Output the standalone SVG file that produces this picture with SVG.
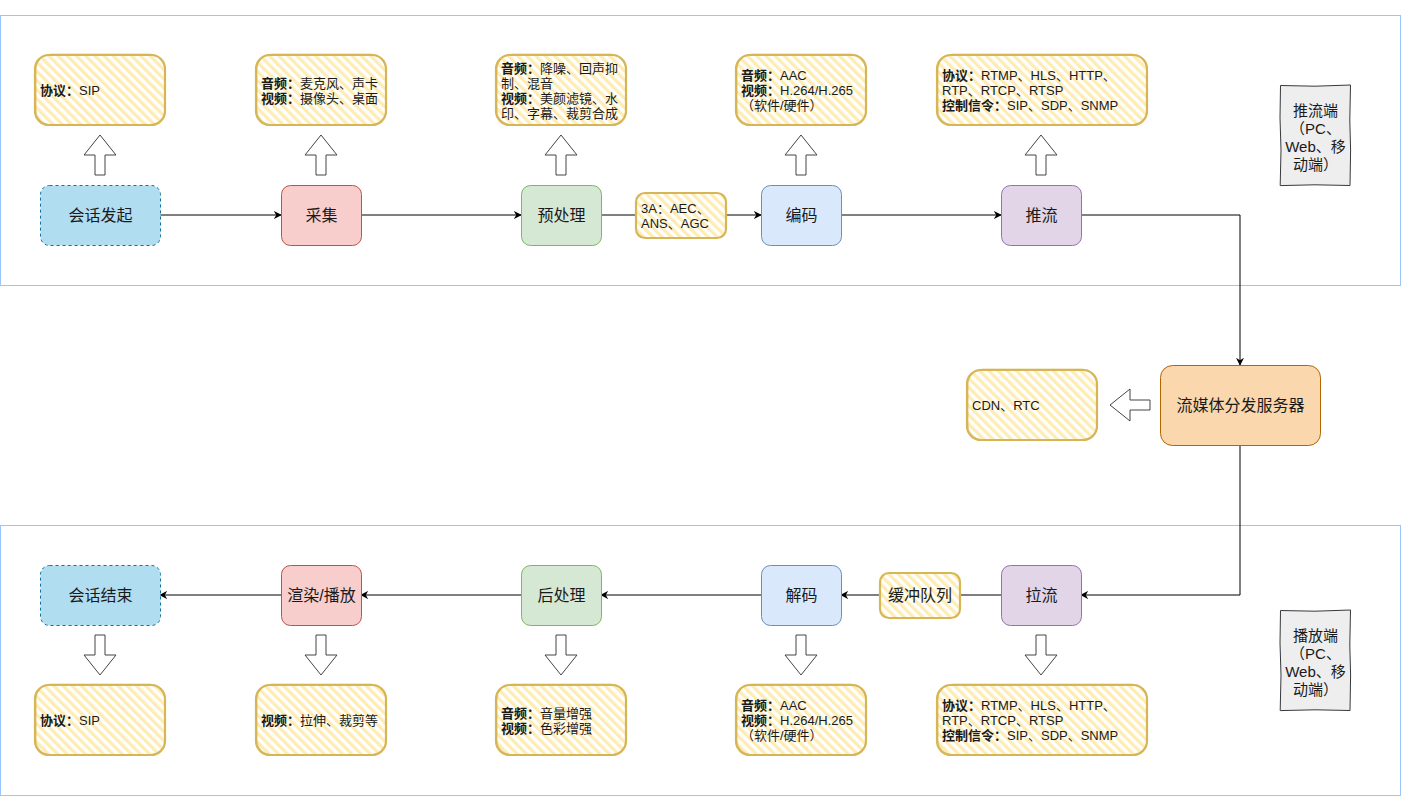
<svg xmlns="http://www.w3.org/2000/svg" width="1401" height="796" viewBox="0 0 1401 796">
<defs>
<pattern id="hatch" patternUnits="userSpaceOnUse" width="6.5" height="6.5" patternTransform="rotate(-45)">
<rect x="0" y="0" width="6.5" height="6.5" fill="#ffffff"/>
<rect x="0" y="0" width="3.2" height="6.5" fill="#ffecb3"/>
</pattern>
<marker id="arr" viewBox="0 0 10 10" refX="9" refY="5" markerWidth="8" markerHeight="8" markerUnits="userSpaceOnUse" orient="auto">
<path d="M0,0 L10,5 L0,10 L3,5 Z" fill="#000"/>
</marker>
<style>
text{font-family:"Liberation Sans","Noto Sans CJK SC",sans-serif;fill:#1a1a1a}
.frame{fill:none;stroke:#99c7fb;stroke-width:1}
.node{stroke-width:1}
.lbl{font-size:16px;text-anchor:middle;dominant-baseline:central}
.note{fill:url(#hatch);stroke:#d6b656;stroke-width:2.2}
.note2{fill:none;stroke:#d6b656;stroke-width:1;opacity:0.6}
.nt{font-size:13px;dominant-baseline:central}
.b{font-weight:bold}
.conn{fill:none;stroke:#000;stroke-width:1}
.blk{fill:#fff;stroke:#444;stroke-width:1}
.side{fill:#eeeeee;stroke:#36393d;stroke-width:1}
.sl{font-size:15px;text-anchor:middle;dominant-baseline:central}
</style>
</defs>

<g id="frames">
<rect class="frame" x="0.5" y="15.5" width="1400" height="270"/>
<rect class="frame" x="0.5" y="525.5" width="1400" height="270"/>
</g>

<g id="connectors">
<path class="conn" d="M160,215 L281,215" marker-end="url(#arr)"/>
<path class="conn" d="M361,215 L521,215" marker-end="url(#arr)"/>
<path class="conn" d="M601,215 L761,215" marker-end="url(#arr)"/>
<path class="conn" d="M841,215 L1001,215" marker-end="url(#arr)"/>
<path class="conn" d="M1081,215 L1240,215 L1240,365" marker-end="url(#arr)"/>
<path class="conn" d="M1240,445 L1240,595 L1081,595" marker-end="url(#arr)"/>
<path class="conn" d="M1001,595 L841,595" marker-end="url(#arr)"/>
<path class="conn" d="M761,595 L601,595" marker-end="url(#arr)"/>
<path class="conn" d="M521,595 L361,595" marker-end="url(#arr)"/>
<path class="conn" d="M281,595 L160,595" marker-end="url(#arr)"/>
<!-- block arrows up -->
<polygon class="blk" points="100,135 116,155 105,155 105,175 95,175 95,155 84,155"/>
<polygon class="blk" points="321,135 337,155 326,155 326,175 316,175 316,155 305,155"/>
<polygon class="blk" points="561,135 577,155 566,155 566,175 556,175 556,155 545,155"/>
<polygon class="blk" points="801,135 817,155 806,155 806,175 796,175 796,155 785,155"/>
<polygon class="blk" points="1041,135 1057,155 1046,155 1046,175 1036,175 1036,155 1025,155"/>
<!-- block arrows down -->
<polygon class="blk" points="95,635 105,635 105,655 116,655 100,675 84,655 95,655"/>
<polygon class="blk" points="316,635 326,635 326,655 337,655 321,675 305,655 316,655"/>
<polygon class="blk" points="556,635 566,635 566,655 577,655 561,675 545,655 556,655"/>
<polygon class="blk" points="796,635 806,635 806,655 817,655 801,675 785,655 796,655"/>
<polygon class="blk" points="1036,635 1046,635 1046,655 1057,655 1041,675 1025,655 1036,655"/>
<!-- block arrow left -->
<polygon class="blk" points="1110,405 1130,389 1130,400 1150,400 1150,410 1130,410 1130,421"/>
</g>

<g id="n-start">
<rect x="40.5" y="185.5" width="120" height="60" rx="9" fill="#b1ddf0" stroke="#10739e" stroke-dasharray="3,3"/>
<text class="lbl" x="100.5" y="215.5">会话发起</text>
</g>
<g id="n-capture">
<rect x="281.5" y="185.5" width="80" height="60" rx="9" fill="#f8cecc" stroke="#b85450"/>
<text class="lbl" x="321.5" y="215.5">采集</text>
</g>
<g id="n-pre">
<rect x="521.5" y="185.5" width="80" height="60" rx="9" fill="#d5e8d4" stroke="#82b366"/>
<text class="lbl" x="561.5" y="215.5">预处理</text>
</g>
<g id="n-enc">
<rect x="761.5" y="185.5" width="80" height="60" rx="9" fill="#dae8fc" stroke="#6c8ebf"/>
<text class="lbl" x="801.5" y="215.5">编码</text>
</g>
<g id="n-push">
<rect x="1001.5" y="185.5" width="80" height="60" rx="9" fill="#e1d5e7" stroke="#9673a6"/>
<text class="lbl" x="1041.5" y="215.5">推流</text>
</g>
<g id="n-server">
<rect x="1160.5" y="365.5" width="160" height="80" rx="12" fill="#fad7ac" stroke="#b46504"/>
<text class="lbl" x="1240.5" y="405.5">流媒体分发服务器</text>
</g>

<g id="n-end">
<rect x="40.5" y="565.5" width="120" height="60" rx="9" fill="#b1ddf0" stroke="#10739e" stroke-dasharray="3,3"/>
<text class="lbl" x="100.5" y="595.5">会话结束</text>
</g>
<g id="n-render">
<rect x="281.5" y="565.5" width="80" height="60" rx="9" fill="#f8cecc" stroke="#b85450"/>
<text class="lbl" x="321.5" y="595.5">渲染/播放</text>
</g>
<g id="n-post">
<rect x="521.5" y="565.5" width="80" height="60" rx="9" fill="#d5e8d4" stroke="#82b366"/>
<text class="lbl" x="561.5" y="595.5">后处理</text>
</g>
<g id="n-dec">
<rect x="761.5" y="565.5" width="80" height="60" rx="9" fill="#dae8fc" stroke="#6c8ebf"/>
<text class="lbl" x="801.5" y="595.5">解码</text>
</g>
<g id="n-pull">
<rect x="1001.5" y="565.5" width="80" height="60" rx="9" fill="#e1d5e7" stroke="#9673a6"/>
<text class="lbl" x="1041.5" y="595.5">拉流</text>
</g>

<!-- notes top -->
<g id="note-t1">
<rect class="note" x="35" y="55" width="130" height="70" rx="14"/>
<rect class="note2" x="36" y="54" width="129" height="71" rx="15"/>
<text class="nt" x="40" y="90"><tspan class="b">协议：</tspan>SIP</text>
</g>
<g id="note-t2">
<rect class="note" x="256" y="55" width="130" height="70" rx="14"/>
<rect class="note2" x="257" y="54" width="129" height="71" rx="15"/>
<text class="nt" x="261" y="83"><tspan class="b">音频：</tspan>麦克风、声卡</text>
<text class="nt" x="261" y="98"><tspan class="b">视频：</tspan>摄像头、桌面</text>
</g>
<g id="note-t3">
<rect class="note" x="496" y="55" width="130" height="70" rx="14"/>
<rect class="note2" x="497" y="54" width="129" height="71" rx="15"/>
<text class="nt" x="501" y="68"><tspan class="b">音频：</tspan>降噪、回声抑</text>
<text class="nt" x="501" y="83">制、混音</text>
<text class="nt" x="501" y="98"><tspan class="b">视频：</tspan>美颜滤镜、水</text>
<text class="nt" x="501" y="113">印、字幕、裁剪合成</text>
</g>
<g id="note-t4">
<rect class="note" x="736" y="55" width="130" height="70" rx="14"/>
<rect class="note2" x="737" y="54" width="129" height="71" rx="15"/>
<text class="nt" x="741" y="75"><tspan class="b">音频：</tspan>AAC</text>
<text class="nt" x="741" y="90"><tspan class="b">视频：</tspan>H.264/H.265</text>
<text class="nt" x="741" y="105">（软件/硬件）</text>
</g>
<g id="note-t5">
<rect class="note" x="937" y="55" width="210" height="70" rx="14"/>
<rect class="note2" x="938" y="54" width="209" height="71" rx="15"/>
<text class="nt" x="942" y="75"><tspan class="b">协议：</tspan>RTMP、HLS、HTTP、</text>
<text class="nt" x="942" y="90">RTP、RTCP、RTSP</text>
<text class="nt" x="942" y="105"><tspan class="b">控制信令：</tspan>SIP、SDP、SNMP</text>
</g>
<g id="note-3a">
<rect class="note" x="636" y="193" width="90" height="45" rx="9"/>
<text class="nt" x="641" y="208">3A：AEC、</text>
<text class="nt" x="641" y="223">ANS、AGC</text>
</g>
<g id="note-cdn">
<rect class="note" x="967" y="370" width="130" height="70" rx="14"/>
<rect class="note2" x="968" y="369" width="129" height="71" rx="15"/>
<text class="nt" x="972" y="405">CDN、RTC</text>
</g>

<!-- notes bottom -->
<g id="note-b1">
<rect class="note" x="35" y="685" width="130" height="70" rx="14"/>
<rect class="note2" x="36" y="684" width="129" height="71" rx="15"/>
<text class="nt" x="40" y="720"><tspan class="b">协议：</tspan>SIP</text>
</g>
<g id="note-b2">
<rect class="note" x="256" y="685" width="130" height="70" rx="14"/>
<rect class="note2" x="257" y="684" width="129" height="71" rx="15"/>
<text class="nt" x="261" y="720"><tspan class="b">视频：</tspan>拉伸、裁剪等</text>
</g>
<g id="note-b3">
<rect class="note" x="496" y="685" width="130" height="70" rx="14"/>
<rect class="note2" x="497" y="684" width="129" height="71" rx="15"/>
<text class="nt" x="501" y="713"><tspan class="b">音频：</tspan>音量增强</text>
<text class="nt" x="501" y="728"><tspan class="b">视频：</tspan>色彩增强</text>
</g>
<g id="note-b4">
<rect class="note" x="736" y="685" width="130" height="70" rx="14"/>
<rect class="note2" x="737" y="684" width="129" height="71" rx="15"/>
<text class="nt" x="741" y="705"><tspan class="b">音频：</tspan>AAC</text>
<text class="nt" x="741" y="720"><tspan class="b">视频：</tspan>H.264/H.265</text>
<text class="nt" x="741" y="735">（软件/硬件）</text>
</g>
<g id="note-b5">
<rect class="note" x="937" y="685" width="210" height="70" rx="14"/>
<rect class="note2" x="938" y="684" width="209" height="71" rx="15"/>
<text class="nt" x="942" y="705"><tspan class="b">协议：</tspan>RTMP、HLS、HTTP、</text>
<text class="nt" x="942" y="720">RTP、RTCP、RTSP</text>
<text class="nt" x="942" y="735"><tspan class="b">控制信令：</tspan>SIP、SDP、SNMP</text>
</g>
<g id="note-buffer">
<rect class="note" x="880" y="573" width="80" height="45" rx="9"/>
<text class="lbl" x="920" y="595.5">缓冲队列</text>
</g>

<g id="side-push">
<path class="side" d="M1280.5,85.5 L1315,86.2 L1350.5,85 L1349.8,120 L1350.6,150 L1350,185.5 L1315,184.8 L1280.2,185.6 L1281,150 L1280,118 Z"/>
<text class="sl" x="1315.5" y="110">推流端</text>
<text class="sl" x="1315.5" y="128">（PC、</text>
<text class="sl" x="1315.5" y="146">Web、移</text>
<text class="sl" x="1315.5" y="164">动端）</text>
</g>
<g id="side-play">
<path class="side" d="M1280.5,610.5 L1315,611.2 L1350.5,610 L1349.8,645 L1350.6,675 L1350,710.5 L1315,709.8 L1280.2,710.6 L1281,675 L1280,643 Z"/>
<text class="sl" x="1315.5" y="635">播放端</text>
<text class="sl" x="1315.5" y="653">（PC、</text>
<text class="sl" x="1315.5" y="671">Web、移</text>
<text class="sl" x="1315.5" y="689">动端）</text>
</g>
</svg>
